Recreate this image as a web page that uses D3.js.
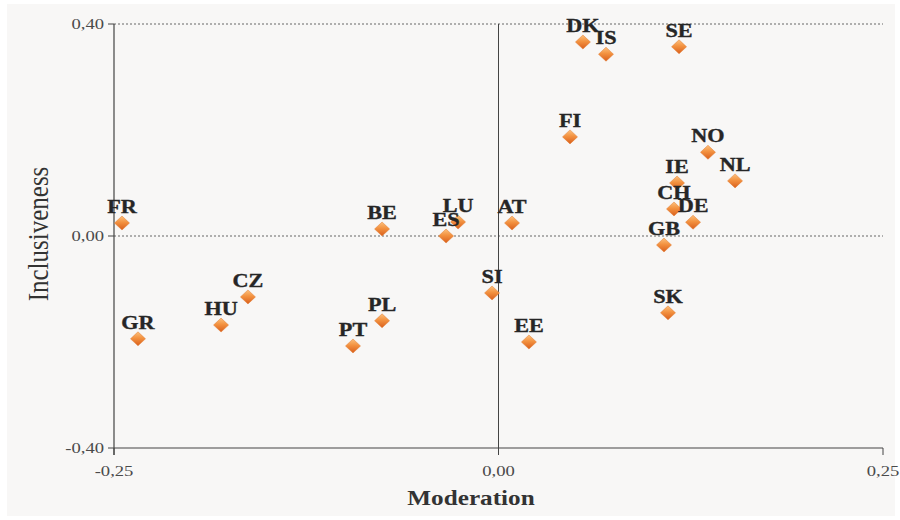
<!DOCTYPE html>
<html><head><meta charset="utf-8">
<script src="https://cdn.jsdelivr.net/npm/d3@7"></script>
<style>html,body{margin:0;padding:0;background:#fff;}</style>
</head><body>
<svg id="chart" width="900" height="520"></svg>
<script>
const countries = ["FR","GR","HU","CZ","BE","PL","PT","ES","LU","AT","SI","EE","FI","DK","IS","SE","NO","NL","IE","CH","DE","GB","SK"];
const moderation = [-0.2448,-0.2344,-0.1804,-0.1629,-0.0757,-0.0757,-0.0946,-0.0341,-0.0263,0.0088,-0.0042,0.0198,0.0465,0.0549,0.0699,0.1174,0.1362,0.1538,0.1161,0.1141,0.1265,0.1076,0.1102];
const inclusiveness = [0.0245,-0.194,-0.168,-0.115,0.0132,-0.160,-0.2075,0.000,0.0264,0.0245,-0.1075,-0.200,0.187,0.366,0.343,0.357,0.158,0.104,0.100,0.051,0.026,-0.017,-0.145];
const xTicks = [-0.25, 0, 0.25];
const yTicks = [-0.40, 0, 0.40];
const xTitle = "Moderation";
const yTitle = "Inclusiveness";

(function(){
const data = countries.map((c,i)=>({c, x:moderation[i], y:inclusiveness[i]}));
const svg = d3.select("#chart");
const pL=114, pR=883, pT=24, pB=448;
const x = d3.scaleLinear().domain([-0.25,0.25]).range([pL,pR]);
const y = d3.scaleLinear().domain([-0.40,0.40]).range([pB,pT]);
const fmt = v => d3.format(".2f")(v).replace(".",",").replace("−","-");
const SX = 1.2;

svg.append("rect").attr("x",7).attr("y",4).attr("width",888).attr("height",512).attr("fill","#f8f7f6");

const defs = svg.append("defs");
const g = defs.append("linearGradient").attr("id","dg").attr("x1",0).attr("y1",0).attr("x2",0).attr("y2",1);
g.append("stop").attr("offset","0%").attr("stop-color","#fcc07c");
g.append("stop").attr("offset","45%").attr("stop-color","#f39240");
g.append("stop").attr("offset","100%").attr("stop-color","#d95f1c");

[0.40, 0].forEach(v=>{
  svg.append("line").attr("x1",pL).attr("x2",pR).attr("y1",y(v)).attr("y2",y(v))
    .attr("stroke","#666").attr("stroke-width",1).attr("stroke-dasharray","2,2");
});
svg.append("line").attr("x1",x(0)).attr("x2",x(0)).attr("y1",pT).attr("y2",pB+7)
  .attr("stroke","#444").attr("stroke-width",1);
svg.append("line").attr("x1",pL).attr("x2",pL).attr("y1",pT).attr("y2",pB+7)
  .attr("stroke","#444").attr("stroke-width",1.2);
svg.append("line").attr("x1",pL).attr("x2",pR).attr("y1",pB).attr("y2",pB)
  .attr("stroke","#444").attr("stroke-width",1.2);
xTicks.forEach(v=>{
  svg.append("line").attr("x1",x(v)).attr("x2",x(v)).attr("y1",pB).attr("y2",pB+7)
    .attr("stroke","#444").attr("stroke-width",1);
  svg.append("text").attr("transform",`translate(${x(v)},476) scale(${SX},1)`)
    .attr("text-anchor","middle").attr("font-family","Liberation Serif").attr("font-size",15.5)
    .attr("fill","#4a4a4a").text(fmt(v));
});
yTicks.forEach(v=>{
  svg.append("line").attr("x1",pL-6).attr("x2",pL).attr("y1",y(v)).attr("y2",y(v))
    .attr("stroke","#444").attr("stroke-width",1);
  svg.append("text").attr("transform",`translate(104,${y(v)+5}) scale(${SX},1)`)
    .attr("text-anchor","end").attr("font-family","Liberation Serif").attr("font-size",15.5)
    .attr("fill","#4a4a4a").text(fmt(v));
});
svg.append("text").attr("transform",`translate(471,505) scale(${SX},1)`)
  .attr("text-anchor","middle").attr("font-family","Liberation Serif").attr("font-weight","bold")
  .attr("font-size",21).attr("fill","#333").text(xTitle);
svg.append("text").attr("transform",`translate(48,234) scale(${SX},1) rotate(-90)`)
  .attr("text-anchor","middle").attr("font-family","Liberation Serif")
  .attr("font-size",25).attr("fill","#333").text(yTitle);

const pts = svg.append("g");
pts.selectAll("path").data(data).join("path")
  .attr("transform",d=>`translate(${x(d.x)},${y(d.y)})`)
  .attr("d","M0,-7 L7.5,0 L0,7 L-7.5,0 Z")
  .attr("fill","url(#dg)").attr("stroke","#e07a30").attr("stroke-width",0.5);
pts.selectAll("text").data(data).join("text")
  .attr("transform",d=>`translate(${x(d.x)},${y(d.y)-10}) scale(${SX},1)`)
  .attr("text-anchor","middle").attr("font-family","Liberation Serif").attr("font-weight","bold")
  .attr("font-size",18.5).attr("fill","#262626").attr("stroke","#262626").attr("stroke-width",0.35)
  .text(d=>d.c);
})();
</script>
</body></html>
